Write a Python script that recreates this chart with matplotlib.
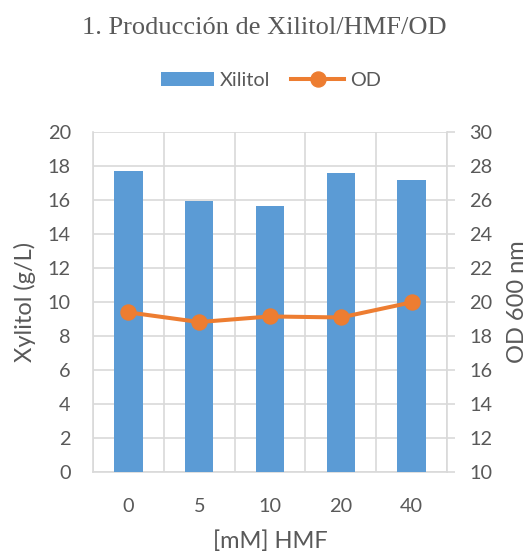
import matplotlib
matplotlib.use("Agg")
import matplotlib.pyplot as plt
from matplotlib.lines import Line2D
from matplotlib.patches import Patch

# Data
hmf_mM = ["0", "5", "10", "20", "40"]
xylitol_gL = [17.7, 15.92, 15.62, 17.6, 17.19]
od_600 = [19.39, 18.82, 19.15, 19.09, 19.98]

BLUE = "#5B9BD5"
ORANGE = "#ED7D31"
TEXT = "#595959"
GRID = "#D9D9D9"
SANS = "Lato"
TICK_FS = 14.3
LABEL_FS = 17

fig = plt.figure(figsize=(5.29, 5.54), dpi=100)
W, H = 529, 554
left, right, top, bottom = 93, 447, 132, 472
ax = fig.add_axes([left / W, 1 - bottom / H, (right - left) / W, (bottom - top) / H])
ax2 = ax.twinx()

x = list(range(len(hmf_mM)))
ax.bar(x, xylitol_gL, width=0.4, color=BLUE, zorder=3)
ax.set_xlim(-0.5, len(hmf_mM) - 0.5)
ax.set_ylim(0, 20)
ax.set_yticks(range(0, 21, 2))
ax.set_xticks(x)
ax.set_xticklabels(hmf_mM)
# vertical gridlines on category boundaries
ax.set_xticks([i + 0.5 for i in range(-1, len(hmf_mM))], minor=True)
ax.grid(True, axis="y", which="major", color=GRID, lw=1.2, zorder=0)
ax.grid(True, axis="x", which="minor", color=GRID, lw=1.2, zorder=0)
ax.tick_params(axis="x", which="major", length=0, pad=18.5)
ax.tick_params(axis="x", which="minor", length=0)
ax.tick_params(axis="y", length=0, pad=16)

ax2.plot(x, od_600, color=ORANGE, lw=2.9, marker="o", ms=10.8, zorder=5)
ax2.set_ylim(10, 30)
ax2.set_yticks(range(10, 31, 2))
ax2.tick_params(axis="y", length=5.8, width=1.2, color=GRID, pad=10)

for a in (ax, ax2):
    for s in a.spines.values():
        s.set_visible(False)
for a, side in ((ax, "left"), (ax, "bottom"), (ax2, "right")):
    a.spines[side].set_visible(True)
    a.spines[side].set_color(GRID)
    a.spines[side].set_linewidth(1.2)

for lab in ax.get_xticklabels() + ax.get_yticklabels() + ax2.get_yticklabels():
    lab.set_fontfamily(SANS)
    lab.set_fontsize(TICK_FS)
    lab.set_color(TEXT)

# axis titles
fig.text(25 / W, 1 - 302 / H, "Xylitol (g/L)", rotation=90, ha="center", va="center",
         fontfamily=SANS, fontsize=LABEL_FS, color=TEXT)
fig.text(517 / W, 1 - 302 / H, "OD 600 nm", rotation=90, ha="center", va="center",
         fontfamily=SANS, fontsize=LABEL_FS, color=TEXT)
fig.text(270 / W, 1 - 541 / H, "[mM] HMF", ha="center", va="center",
         fontfamily=SANS, fontsize=LABEL_FS, color=TEXT)

fig.text(0.5, 1 - 28 / H, "1. Producción de Xilitol/HMF/OD", ha="center", va="center",
         fontfamily="Liberation Serif", fontsize=19, color=TEXT)

handles = [Patch(facecolor=BLUE, edgecolor="none"),
           Line2D([], [], color=ORANGE, lw=2.9, marker="o", ms=10.8)]
fig.legend(handles, ["Xilitol", "OD"], loc="center", bbox_to_anchor=(271 / W, 1 - 80 / H),
           ncol=2, frameon=False, prop={"family": SANS, "size": TICK_FS},
           labelcolor=TEXT, handlelength=2.67, handleheight=0.7, handletextpad=0.3,
           columnspacing=1.05)

fig.savefig("out.png", dpi=100)
